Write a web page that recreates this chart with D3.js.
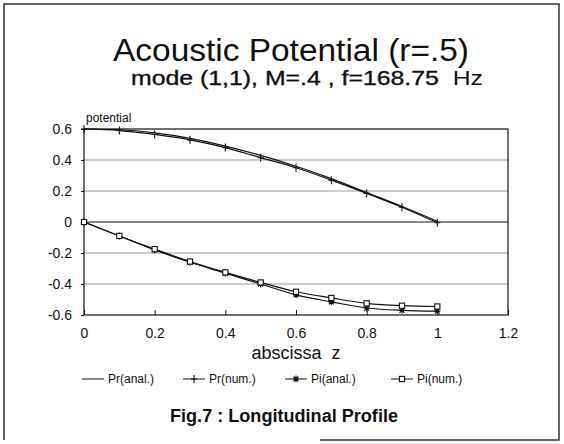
<!DOCTYPE html>
<html>
<head>
<meta charset="utf-8">
<script src="https://cdn.jsdelivr.net/npm/d3@7"></script>
<style>
  body { margin: 0; background: #fff; }
  svg { display: block; font-family: "Liberation Sans", Arial, sans-serif; }
</style>
</head>
<body>
<svg id="chart" width="564" height="444"></svg>
<script>
// values
const zValues = [0, 0.1, 0.2, 0.3, 0.4, 0.5, 0.6, 0.7, 0.8, 0.9, 1];
const prAnal = [0.6, 0.595, 0.575, 0.54, 0.49, 0.43, 0.36, 0.28, 0.19, 0.1, 0.005];
const prNum = [0.6, 0.59, 0.565, 0.53, 0.48, 0.415, 0.35, 0.27, 0.185, 0.095, -0.005];
const piAnal = [0, -0.09, -0.18, -0.26, -0.33, -0.4, -0.47, -0.515, -0.555, -0.57, -0.575];
const piNum = [0, -0.09, -0.175, -0.255, -0.325, -0.39, -0.45, -0.49, -0.525, -0.54, -0.545];
const xTicks = [0, 0.2, 0.4, 0.6, 0.8, 1, 1.2];
const yTicks = [-0.6, -0.4, -0.2, 0, 0.2, 0.4, 0.6];
const seriesNames = ["Pr(anal.)", "Pr(num.)", "Pi(anal.)", "Pi(num.)"];
const seriesMarks = ["none", "plus", "star", "square"];

const svg = d3.select("#chart");
const ink = "#111",
  gridFill = "#999",
  lineWidth = 1.2;

// page frame (scanned, bottom edge only partly visible)
svg.append("path")
  .attr("d", "M4,440 L4,4 L559,4 L559,440 L320,440")
  .attr("fill", "none")
  .attr("stroke", "#333")
  .attr("stroke-width", 1.5);

// titles
svg.append("text")
  .attr("x", 291).attr("y", 61)
  .attr("text-anchor", "middle")
  .attr("font-size", 31)
  .attr("textLength", 356)
  .attr("lengthAdjust", "spacingAndGlyphs")
  .attr("fill", ink)
  .text("Acoustic Potential (r=.5)");

const sub = svg.append("text")
  .attr("x", 131).attr("y", 85)
  .attr("font-size", 20)
  .attr("textLength", 352)
  .attr("lengthAdjust", "spacingAndGlyphs")
  .attr("fill", ink);
sub.append("tspan")
  .attr("stroke", ink).attr("stroke-width", 0.35)
  .text("mode (1,1), M=.4 , f=168.75 ");
sub.append("tspan").text("\u00a0Hz");

// plot area
const margin = { top: 129, right: 56, bottom: 129, left: 84 };
const width = 564 - margin.left - margin.right,
  height = 444 - margin.top - margin.bottom;

const x = d3.scaleLinear().domain([0, 1.2]).range([0, width]);
const y = d3.scaleLinear().domain([-0.6, 0.6]).range([height, 0]);

const g = svg.append("g")
  .attr("transform", "translate(" + margin.left + "," + margin.top + ")");

// grid lines
g.selectAll(".grid")
  .data(yTicks.filter(d => d !== 0 && Math.abs(d) !== 0.6))
  .enter().append("line")
  .attr("x1", 0).attr("x2", width)
  .attr("y1", d => y(d)).attr("y2", d => y(d))
  .attr("stroke", gridFill)
  .attr("stroke-width", 1);

// zero line and frame
g.append("line")
  .attr("x1", 0).attr("x2", width)
  .attr("y1", y(0)).attr("y2", y(0))
  .attr("stroke", ink).attr("stroke-width", lineWidth);

g.append("rect")
  .attr("x", 0).attr("y", 0)
  .attr("width", width).attr("height", height)
  .attr("fill", "none")
  .attr("stroke", ink)
  .attr("stroke-width", lineWidth);

// axes
const yAxis = d3.axisLeft(y).tickValues(yTicks).tickSize(3).tickFormat(d => d === 0 ? "0" : d3.format(".1f")(d).replace("\u2212", "-"));
const xAxis = d3.axisBottom(x).tickValues(xTicks).tickSize(-5).tickPadding(13).tickFormat(d => d === 0 || d === 1 ? d : d3.format(".1f")(d));

const ya = g.append("g").call(yAxis);
const xa = g.append("g").attr("transform", "translate(0," + height + ")").call(xAxis);
[ya, xa].forEach(a => {
  a.select(".domain").remove();
  a.selectAll("line").attr("stroke", ink);
  a.selectAll("text")
    .attr("fill", ink)
    .attr("font-size", 14)
    .attr("font-family", "Liberation Sans, Arial, sans-serif");
});
ya.selectAll("text").attr("dy", "0.35em").attr("x", -12);

g.append("text")
  .attr("x", 2).attr("y", -7)
  .attr("font-size", 12)
  .attr("fill", ink)
  .text("potential");

svg.append("text")
  .attr("x", 296).attr("y", 359)
  .attr("text-anchor", "middle")
  .attr("font-size", 18)
  .attr("fill", ink)
  .text("abscissa\u00a0 z");

// curves
const seriesValues = [prAnal, prNum, piAnal, piNum];
const line = d3.line()
  .x((d, i) => x(zValues[i]))
  .y(d => y(d))
  .curve(d3.curveMonotoneX);

function drawMarker(sel, kind, cx, cy) {
  if (kind === "plus") {
    sel.append("path")
      .attr("d", "M" + (cx - 3) + "," + cy + "h6M" + cx + "," + (cy - 4) + "v8")
      .attr("stroke", ink).attr("stroke-width", 1.1).attr("fill", "none");
  } else if (kind === "star") {
    sel.append("path")
      .attr("d", "M" + (cx - 3) + "," + cy + "h6M" + cx + "," + (cy - 3.5) + "v7" +
        "M" + (cx - 2.5) + "," + (cy - 2.5) + "l5,5M" + (cx + 2.5) + "," + (cy - 2.5) + "l-5,5")
      .attr("stroke", ink).attr("stroke-width", 1.1).attr("fill", "none");
  } else if (kind === "square") {
    sel.append("rect")
      .attr("x", cx - 2.6).attr("y", cy - 2.6)
      .attr("width", 5.2).attr("height", 5.2)
      .attr("fill", "#fff")
      .attr("stroke", ink).attr("stroke-width", 1.1);
  }
}

seriesValues.forEach((vals, k) => {
  g.append("path")
    .datum(vals)
    .attr("d", line)
    .attr("fill", "none")
    .attr("stroke", ink)
    .attr("stroke-width", lineWidth);
});

seriesValues.forEach((vals, k) => {
  if (seriesMarks[k] === "none") return;
  const mg = g.append("g");
  vals.forEach((v, i) => drawMarker(mg, seriesMarks[k], x(zValues[i]), y(v)));
});

// legend
const legendX = [82, 183, 285, 391];
const legend = svg.append("g").attr("transform", "translate(0,379)");
seriesNames.forEach((name, k) => {
  const lx = legendX[k];
  legend.append("line")
    .attr("x1", lx).attr("x2", lx + 22)
    .attr("y1", 0).attr("y2", 0)
    .attr("stroke", ink).attr("stroke-width", 1);
  drawMarker(legend, seriesMarks[k], lx + 11, 0);
  legend.append("text")
    .attr("x", lx + 26).attr("y", 4)
    .attr("font-size", 12)
    .attr("fill", ink)
    .text(name);
});

// caption
svg.append("text")
  .attr("x", 284).attr("y", 422)
  .attr("text-anchor", "middle")
  .attr("font-size", 18)
  .attr("font-weight", "bold")
  .attr("textLength", 228)
  .attr("lengthAdjust", "spacingAndGlyphs")
  .attr("fill", ink)
  .text("Fig.7 : Longitudinal Profile");
</script>
</body>
</html>
